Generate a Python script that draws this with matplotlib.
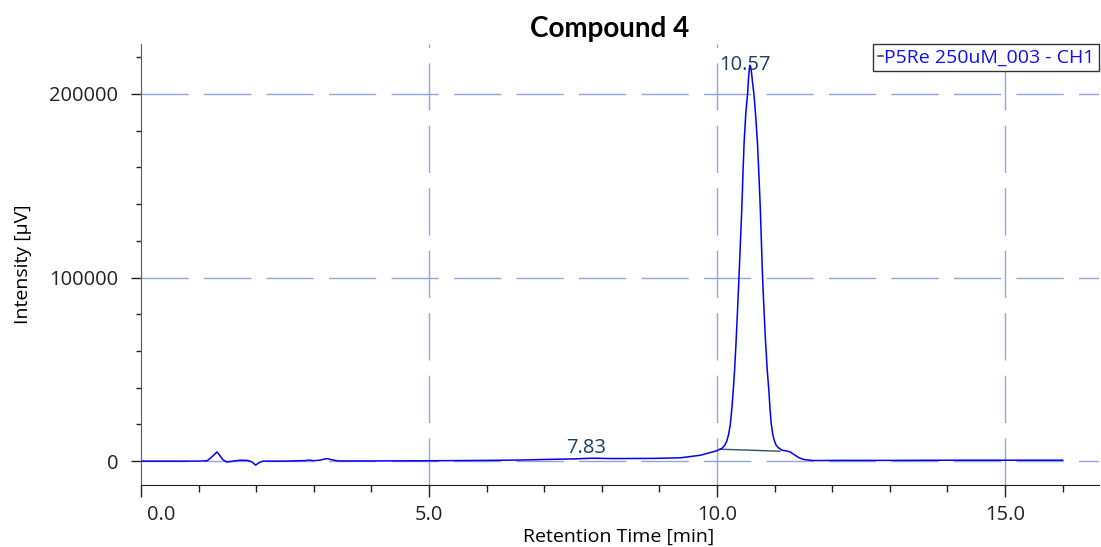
import matplotlib
matplotlib.use("Agg")
import matplotlib.pyplot as plt
from matplotlib.ticker import MultipleLocator, FixedLocator, FuncFormatter
from matplotlib.transforms import ScaledTranslation

plt.rcParams['font.family'] = ['Open Sans', 'DejaVu Sans']
plt.rcParams['lines.scale_dashes'] = False

# Chromatogram trace: retention time [min] and detector signal [µV]
time_min = [
    0.00, 1.00, 1.15, 1.20, 1.27, 1.32, 1.37, 1.42, 1.49, 1.60, 1.72, 1.85,
    1.93, 1.99, 2.05, 2.12, 2.50, 2.85, 2.93, 3.00, 3.12, 3.22, 3.32, 3.42,
    4.00, 5.00, 5.50, 6.00, 6.60, 7.00, 7.50, 7.83, 8.20, 8.90, 9.20, 9.36,
    9.71, 9.99, 10.08, 10.13, 10.17, 10.20, 10.23, 10.255, 10.28, 10.305,
    10.33, 10.355, 10.38, 10.405, 10.43, 10.45, 10.47, 10.50, 10.53, 10.545,
    10.56, 10.57, 10.585, 10.60, 10.62, 10.64, 10.67, 10.70, 10.725, 10.75,
    10.77, 10.79, 10.815, 10.84, 10.87, 10.90, 10.92, 10.94, 10.965, 10.99,
    11.02, 11.06, 11.13, 11.20, 11.27, 11.35, 11.42, 11.50, 11.67, 12.10,
    13.00, 14.00, 15.00, 16.00,
]
signal_uv = [
    0, 0, 200, 1500, 3500, 5000, 3000, 800, -500, 0, 500, 400,
    -500, -2200, -800, 0, 0, 300, 600, 200, 600, 1400, 700, 100,
    100, 200, 300, 400, 600, 900, 1200, 1600, 1400, 1500, 1700, 1800,
    3200, 5600, 6900, 8500, 11000, 14500, 20000, 28000, 38000, 50000,
    65000, 82000, 100000, 119000, 138000, 157000, 174000, 190000, 200000, 208000,
    213500, 215500, 214500, 211000, 205000, 200000, 188000, 174000, 157000, 138000,
    119000, 100000, 82000, 66000, 50000, 38000, 28000, 20500, 15000, 11500,
    9000, 7400, 5900, 5600, 5000, 3300, 1900, 900, 300, 400,
    400, 500, 500, 500,
]

# Detected peaks and their retention-time labels
peak_times = [7.83, 10.57]
peak_heights = [1600, 215500]
peak_labels = ["7.83", "10.57"]

# Integration baseline under the main peak
base_times = [10.05, 11.09]
base_values = [6500, 5400]

trace_name = "P5Re 250uM_003 - CH1"
x_ticks = [0.0, 5.0, 10.0, 15.0]
y_ticks = [0, 100000, 200000]

W, H = 1101, 547
fig = plt.figure(figsize=(W / 100, H / 100), dpi=100)
ax = fig.add_axes([141 / W, 62 / H, 958 / W, 440.7 / H])

grid_col = '#93a5dc'
for xv in x_ticks[1:]:
    ax.axvline(xv, color=grid_col, lw=1.0, dashes=(34, 11), zorder=1)
for yv in y_ticks:
    ax.axhline(yv, color=grid_col, lw=1.0, dashes=(34, 11), zorder=1)

ax.plot(time_min, signal_uv, color='#0000ff', lw=1.1, zorder=3, label=trace_name)
ax.plot(base_times, base_values, color='#34506b', lw=1.0, zorder=2)

offsets = {"7.83": (-4.3, 3.6), "10.57": (-3.8, -3.0)}
for t, h, lab in zip(peak_times, peak_heights, peak_labels):
    ax.annotate(lab, xy=(t, h), xytext=offsets[lab], textcoords='offset points',
                ha='center', va='baseline', fontsize=14.5, color='#1c3f66', zorder=4)

ax.set_xlim(0, 16.63)
ax.set_ylim(-13000, 227000)

ax.xaxis.set_major_locator(FixedLocator(x_ticks))
ax.xaxis.set_minor_locator(MultipleLocator(1.0))
ax.yaxis.set_major_locator(FixedLocator(y_ticks))
ax.yaxis.set_minor_locator(MultipleLocator(20000))
ax.xaxis.set_major_formatter(FuncFormatter(lambda v, p: f"{v:.1f}"))
ax.yaxis.set_major_formatter(FuncFormatter(lambda v, p: f"{int(v)}"))

ax.tick_params(axis='x', which='major', length=8.6, width=1, pad=6, labelsize=14.5, colors='#222222')
ax.tick_params(axis='x', which='minor', length=5, width=1, colors='#222222')
ax.tick_params(axis='y', which='major', length=7.5, width=1, pad=9, labelsize=14.5, colors='#222222')
ax.tick_params(axis='y', which='minor', length=3.8, width=1, colors='#222222')
first = ax.get_xticklabels()[0]
first.set_horizontalalignment('left')
first.set_transform(first.get_transform() + ScaledTranslation(6 / 100, 0, fig.dpi_scale_trans))

for s in ('top', 'right'):
    ax.spines[s].set_visible(False)
ax.spines['left'].set_color('#5a5a6a')
ax.spines['bottom'].set_color('#222222')

ax.set_xlabel("Retention Time [min]", fontsize=14)
ax.xaxis.set_label_coords(0.4989, -0.098)
ax.set_ylabel("Intensity [µV]", fontsize=14)
ax.yaxis.set_label_coords(-0.1138, 0.5)

leg = ax.legend(loc='upper right', bbox_to_anchor=(1.0, 1.0), borderaxespad=0,
                handlelength=0.3, handletextpad=0.05, borderpad=0.22,
                fancybox=False, framealpha=1, edgecolor='#333333',
                labelcolor='#1010f0', fontsize=14)
leg.get_frame().set_linewidth(1.0)
leg.legend_handles[0].set_color('#333355')

fig.text(610 / W, (H - 37) / H, "Compound 4", ha='center', va='baseline',
         fontsize=20, fontweight='bold', family=['Lato', 'DejaVu Sans'])

fig.savefig("out.png", dpi=100)
